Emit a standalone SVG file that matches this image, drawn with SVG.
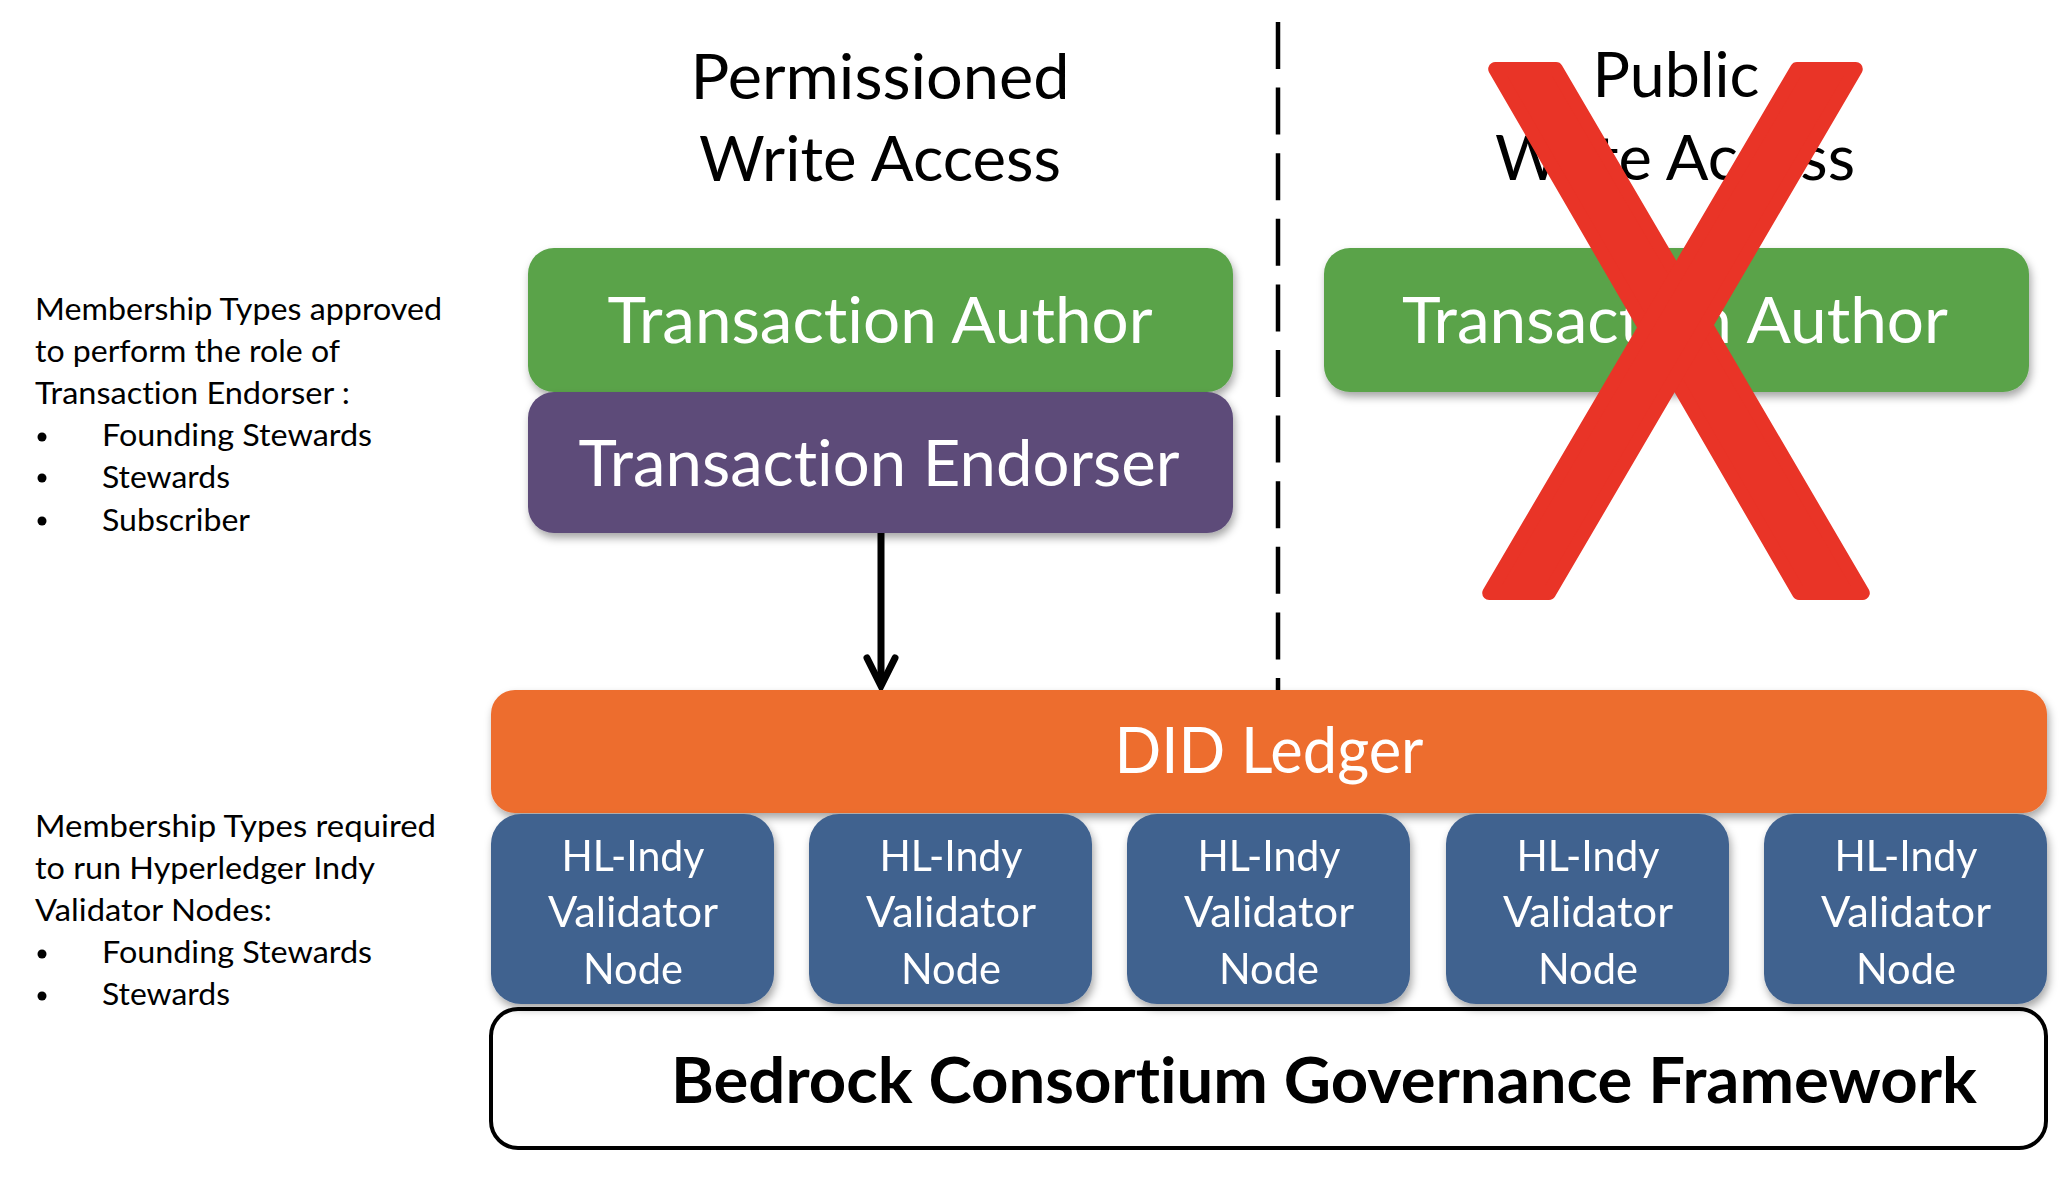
<svg xmlns="http://www.w3.org/2000/svg" width="2070" height="1180" viewBox="0 0 2070 1180">
<defs>
  <filter id="shadow" x="-10%" y="-20%" width="120%" height="150%">
    <feDropShadow dx="2" dy="5" stdDeviation="4" flood-color="#000" flood-opacity="0.35"/>
  </filter>
  <marker id="chev" markerUnits="userSpaceOnUse" viewBox="-40 -20 50 40" markerWidth="50" markerHeight="40" refX="0" refY="0" orient="auto" overflow="visible">
    <path d="M-28,-14 L0,0 L-28,14" fill="none" stroke="#000" stroke-width="7" stroke-linecap="round" stroke-linejoin="miter"/>
  </marker>
  <style>
    text { font-family: Lato, "Open Sans", "Liberation Sans", sans-serif; font-variant-ligatures: none; }
    .title { font-size: 61px; fill: #000; text-anchor: middle; }
    .boxtxt { font-size: 63px; fill: #fff; text-anchor: middle; }
    .nodetxt { font-size: 42px; fill: #fff; text-anchor: middle; }
    .side { font-size: 30px; fill: #000; }
    .green { fill: #5AA34A; }
    .purple { fill: #5D4B79; }
    .orange { fill: #ED6D2F; }
    .blue { fill: #41628F; }
    .xmark { fill: #E93427; stroke: #E93427; stroke-width: 14; stroke-linejoin: round; }
  </style>
</defs>
<rect width="2070" height="1180" fill="#fff"/>

<!-- side notes -->
<g id="note-endorser">
  <text class="side" x="35" y="320" textLength="407" lengthAdjust="spacingAndGlyphs">Membership Types approved</text>
  <text class="side" x="35" y="362" textLength="305" lengthAdjust="spacingAndGlyphs">to perform the role of</text>
  <text class="side" x="35" y="404" textLength="315" lengthAdjust="spacingAndGlyphs">Transaction Endorser :</text>
  <circle cx="42" cy="437" r="4.5"/>
  <text class="side" x="102" y="446" textLength="270" lengthAdjust="spacingAndGlyphs">Founding Stewards</text>
  <circle cx="42" cy="478" r="4.5"/>
  <text class="side" x="102" y="488" textLength="128" lengthAdjust="spacingAndGlyphs">Stewards</text>
  <circle cx="42" cy="521" r="4.5"/>
  <text class="side" x="102" y="531" textLength="148" lengthAdjust="spacingAndGlyphs">Subscriber</text>
</g>
<g id="note-validator">
  <text class="side" x="35" y="837" textLength="401" lengthAdjust="spacingAndGlyphs">Membership Types required</text>
  <text class="side" x="35" y="879" textLength="340" lengthAdjust="spacingAndGlyphs">to run Hyperledger Indy</text>
  <text class="side" x="35" y="921" textLength="237" lengthAdjust="spacingAndGlyphs">Validator Nodes:</text>
  <circle cx="42" cy="954" r="4.5"/>
  <text class="side" x="102" y="963" textLength="270" lengthAdjust="spacingAndGlyphs">Founding Stewards</text>
  <circle cx="42" cy="996" r="4.5"/>
  <text class="side" x="102" y="1005" textLength="128" lengthAdjust="spacingAndGlyphs">Stewards</text>
</g>

<!-- headings -->
<g id="heading-permissioned">
  <text class="title" x="880" y="99" textLength="379" lengthAdjust="spacingAndGlyphs">Permissioned</text>
  <text class="title" x="880" y="181" textLength="362" lengthAdjust="spacingAndGlyphs">Write Access</text>
</g>
<g id="heading-public">
  <text class="title" x="1676" y="97" textLength="167" lengthAdjust="spacingAndGlyphs">Public</text>
  <text class="title" x="1675" y="180" textLength="360" lengthAdjust="spacingAndGlyphs">Write Access</text>
</g>

<!-- connectors -->
<g id="connectors">
  <line x1="1278" y1="22" x2="1278" y2="690" stroke="#000" stroke-width="4.5" stroke-dasharray="47 18.6"/>
  <line x1="881" y1="533" x2="881" y2="686" stroke="#000" stroke-width="7" marker-end="url(#chev)"/>
</g>

<!-- nodes -->
<g id="author-permissioned" filter="url(#shadow)">
  <rect class="green" x="528" y="248" width="705" height="144" rx="26"/>
  <text class="boxtxt" x="880" y="343" textLength="545" lengthAdjust="spacingAndGlyphs">Transaction Author</text>
</g>
<g id="endorser" filter="url(#shadow)">
  <rect class="purple" x="528" y="392" width="705" height="141" rx="26"/>
  <text class="boxtxt" x="879" y="486" textLength="601" lengthAdjust="spacingAndGlyphs">Transaction Endorser</text>
</g>
<g id="author-public" filter="url(#shadow)">
  <rect class="green" x="1324" y="248" width="705" height="144" rx="26"/>
  <text class="boxtxt" x="1675" y="343" textLength="546" lengthAdjust="spacingAndGlyphs">Transaction Author</text>
</g>

<g id="governance">
  <rect x="491" y="1009" width="1555" height="139" rx="27" fill="#fff" stroke="#000" stroke-width="4"/>
  <text x="671" y="1103" font-size="64" font-weight="bold" fill="#000" textLength="1306" lengthAdjust="spacingAndGlyphs">Bedrock Consortium Governance Framework</text>
</g>

<g id="did-ledger" filter="url(#shadow)">
  <rect class="orange" x="491" y="690" width="1556" height="123" rx="24"/>
  <text class="boxtxt" x="1269" y="773" textLength="309" lengthAdjust="spacingAndGlyphs">DID Ledger</text>
</g>

<g id="node1" filter="url(#shadow)">
  <rect class="blue" x="491" y="814" width="283" height="190" rx="30"/>
  <text class="nodetxt" x="633" y="871" textLength="143" lengthAdjust="spacingAndGlyphs">HL-Indy</text>
  <text class="nodetxt" x="633" y="927" textLength="170" lengthAdjust="spacingAndGlyphs">Validator</text>
  <text class="nodetxt" x="633" y="984" textLength="100" lengthAdjust="spacingAndGlyphs">Node</text>
</g>
<g id="node2" filter="url(#shadow)">
  <rect class="blue" x="809" y="814" width="283" height="190" rx="30"/>
  <text class="nodetxt" x="951" y="871" textLength="143" lengthAdjust="spacingAndGlyphs">HL-Indy</text>
  <text class="nodetxt" x="951" y="927" textLength="170" lengthAdjust="spacingAndGlyphs">Validator</text>
  <text class="nodetxt" x="951" y="984" textLength="100" lengthAdjust="spacingAndGlyphs">Node</text>
</g>
<g id="node3" filter="url(#shadow)">
  <rect class="blue" x="1127" y="814" width="283" height="190" rx="30"/>
  <text class="nodetxt" x="1269" y="871" textLength="143" lengthAdjust="spacingAndGlyphs">HL-Indy</text>
  <text class="nodetxt" x="1269" y="927" textLength="170" lengthAdjust="spacingAndGlyphs">Validator</text>
  <text class="nodetxt" x="1269" y="984" textLength="100" lengthAdjust="spacingAndGlyphs">Node</text>
</g>
<g id="node4" filter="url(#shadow)">
  <rect class="blue" x="1446" y="814" width="283" height="190" rx="30"/>
  <text class="nodetxt" x="1588" y="871" textLength="143" lengthAdjust="spacingAndGlyphs">HL-Indy</text>
  <text class="nodetxt" x="1588" y="927" textLength="170" lengthAdjust="spacingAndGlyphs">Validator</text>
  <text class="nodetxt" x="1588" y="984" textLength="100" lengthAdjust="spacingAndGlyphs">Node</text>
</g>
<g id="node5" filter="url(#shadow)">
  <rect class="blue" x="1764" y="814" width="283" height="190" rx="30"/>
  <text class="nodetxt" x="1906" y="871" textLength="143" lengthAdjust="spacingAndGlyphs">HL-Indy</text>
  <text class="nodetxt" x="1906" y="927" textLength="170" lengthAdjust="spacingAndGlyphs">Validator</text>
  <text class="nodetxt" x="1906" y="984" textLength="100" lengthAdjust="spacingAndGlyphs">Node</text>
</g>

<!-- red cross -->
<g id="red-x">
  <polygon class="xmark" points="1495.2,69 1556,69 1862.8,593 1799,593"/>
  <polygon class="xmark" points="1797,69 1855.8,69 1549,593 1489.2,593"/>
</g>
</svg>
